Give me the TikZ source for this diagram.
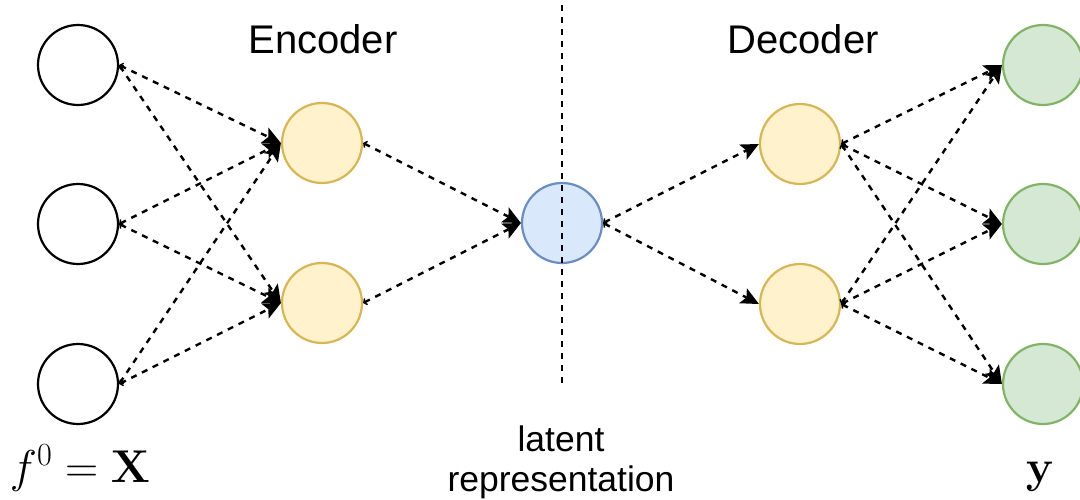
\RequirePackage{fix-cm}
\documentclass[tikz,border=0pt]{standalone}
\usepackage[no-math]{fontspec}
\setmainfont{Liberation Sans}
\usetikzlibrary{arrows.meta}
\definecolor{yfill}{HTML}{FFF2CC}
\definecolor{ydraw}{HTML}{D6B656}
\definecolor{bfill}{HTML}{DAE8FC}
\definecolor{bdraw}{HTML}{6C8EBF}
\definecolor{gfill}{HTML}{D5E8D4}
\definecolor{gdraw}{HTML}{82B366}
\begin{document}
\begin{tikzpicture}[x=1pt,y=-1pt,
  neuron/.style={circle, minimum size=80pt, inner sep=0pt, line width=2.2pt, draw=black, fill=white},
  enc/.style={neuron, draw=ydraw, fill=yfill},
  lat/.style={neuron, draw=bdraw, fill=bfill},
  outn/.style={neuron, draw=gdraw, fill=gfill},
  dashline/.style={line width=2.4pt, dash pattern=on 6pt off 6pt},
  conn/.style={dashline, {Straight Barb[length=2.5pt,width=7pt,line width=1.4pt]}-{Stealth[length=18pt,width=17pt,inset=4pt,line width=0pt]}},
  title/.style={font=\fontsize{40pt}{48pt}\selectfont, inner sep=0pt},
  math/.style={font=\fontsize{46pt}{54pt}\selectfont, inner sep=0pt}
]
\useasboundingbox (0,0) rectangle (1080,500);

\node[neuron] (i1) at (78,65) {};
\node[neuron] (i2) at (78,224) {};
\node[neuron] (i3) at (78,384) {};
\node[enc] (h1) at (322,143) {};
\node[enc] (h2) at (322,303) {};
\node[lat] (l) at (562,223) {};
\node[enc] (d1) at (800,144) {};
\node[enc] (d2) at (800,304) {};
\node[outn] (o1) at (1043,65) {};
\node[outn] (o2) at (1043,224) {};
\node[outn] (o3) at (1043,384) {};

\foreach \s in {i1,i2,i3}{
  \foreach \t in {h1,h2}{
    \draw[conn] (\s.east) -- (\t.west);
  }
}
\draw[conn] (h1.east) -- (l.west);
\draw[conn] (h2.east) -- (l.west);
\draw[conn] (l.east) -- (d1.west);
\draw[conn] (l.east) -- (d2.west);
\foreach \s in {d1,d2}{
  \foreach \t in {o1,o2,o3}{
    \draw[conn] (\s.east) -- (\t.west);
  }
}

\coordinate (vtop) at (562,5);
\coordinate (vbot) at (562,385);
\draw[dashline] (vtop) -- (vbot);

\node[title, anchor=base] (enct) at (323,54) {Encoder};
\node[title, anchor=base] (dect) at (803,54) {Decoder};
\node[inner sep=0pt, align=center, font=\fontsize{35.5pt}{40pt}\selectfont] (latt) at (561,462) {latent\\representation};
\node[math, anchor=base] (fx) at (80,482) {$f^0=\mathbf{X}$};
\node[math, anchor=base] (yy) at (1040,482) {$\mathbf{y}$};
\end{tikzpicture}
\end{document}
